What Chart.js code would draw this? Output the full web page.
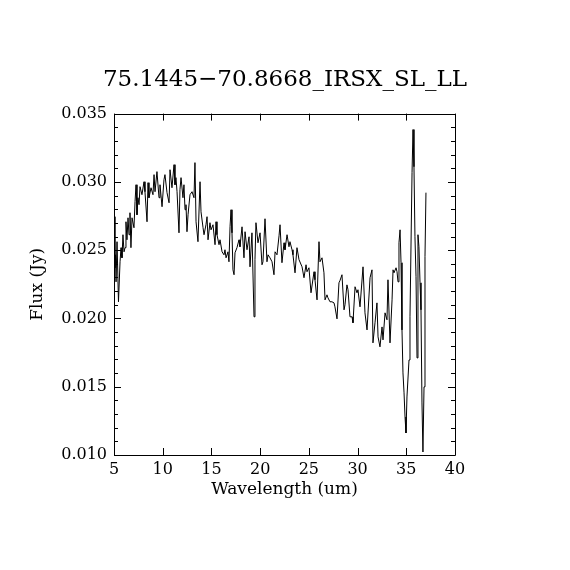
<!DOCTYPE html>
<html>
<head>
<meta charset="utf-8">
<script src="https://cdn.jsdelivr.net/npm/chart.js@4.4.1/dist/chart.umd.min.js"></script>
<style>
  html, body { margin: 0; padding: 0; background: #ffffff; }
  #wrap { width: 570px; height: 570px; }
</style>
</head>
<body>
<div id="wrap"><canvas id="c" width="570" height="570"></canvas></div>
<script>
const chartTitle = "75.1445\u221270.8668_IRSX_SL_LL";
const xLabel = "Wavelength (um)";
const yLabel = "Flux (Jy)";
const xTicks = [5, 10, 15, 20, 25, 30, 35, 40];
const yTicks = [0.010, 0.015, 0.020, 0.025, 0.030, 0.035];
const yMinorStep = 0.001;

const wavelength = [
  5.00,5.10,5.15,5.21,5.31,5.46,5.62,5.72,5.82,5.92,6.03,6.13,6.23,6.33,6.44,6.54,6.64,6.74,6.85,7.05,
  7.16,7.26,7.36,7.46,7.57,7.67,7.87,8.08,8.18,8.39,8.49,8.59,8.80,9.00,9.11,9.21,9.41,9.62,9.72,9.93,
  10.13,10.23,10.44,10.65,10.75,10.95,11.16,
  11.26,11.36,11.47,11.67,11.77,11.88,12.08,12.18,12.29,12.39,12.49,12.60,12.80,13.01,13.21,13.31,13.42,13.62,13.83,13.93,
  14.14,14.24,14.44,14.55,14.65,14.85,14.96,15.16,15.37,15.47,15.57,15.78,15.88,16.09,16.29,16.39,16.50,16.70,16.80,16.91,
  17.01,17.11,17.21,17.32,17.42,17.62,17.83,17.93,18.14,18.34,18.45,18.65,18.86,18.96,19.16,19.37,19.47,19.57,19.78,19.99,
  20.19,20.29,20.50,20.70,20.81,21.01,21.22,21.42,21.53,21.73,21.94,22.04,22.24,22.45,22.55,22.76,22.96,23.06,23.27,23.37,
  23.58,23.78,23.99,24.30,24.50,24.71,24.81,25.01,25.22,25.53,25.63,25.84,26.04,26.14,26.35,26.55,26.66,26.86,26.96,27.17,
  27.37,27.58,27.68,27.89,28.09,28.19,28.40,28.61,28.71,28.91,29.02,29.22,29.43,29.53,29.74,29.94,30.04,30.25,30.56,30.76,
  30.97,31.28,31.48,31.58,31.79,31.99,32.10,32.30,32.51,32.61,32.82,33.02,33.12,33.33,33.54,33.64,33.74,33.95,34.05,34.15,
  34.25,34.36,34.46,34.56,34.66,34.77,34.87,34.97,35.07,35.28,35.38,35.59,35.69,35.79,35.89,36.00,36.10,36.20,36.30,36.41,
  36.51,36.61,36.71,36.82,36.92,37.02
];

const flux = [
  0.02745,0.02371,0.02466,0.02268,0.02562,0.02122,0.02415,0.02518,0.02444,0.02613,0.02488,0.02518,0.02708,0.02576,0.02737,0.02613,0.02774,0.02518,0.02737,0.02664,
  0.02855,0.02979,0.02759,0.02884,0.02833,0.02965,0.02906,0.03001,0.02928,0.02708,0.02994,0.02884,0.02957,0.02906,0.03053,0.02928,0.03075,0.02884,0.02979,0.02818,
  0.03016,0.03053,0.02921,0.02847,0.03089,0.02957,0.03126,
  0.02979,0.03031,0.02928,0.02627,0.02943,0.03031,0.02884,0.02979,0.02796,0.02833,0.02635,0.02759,0.02906,0.02928,0.02884,0.03141,0.02708,0.02562,0.03001,0.02781,
  0.02664,0.02613,0.02686,0.02745,0.02576,0.02701,0.02649,0.02686,0.02540,0.02708,0.02613,0.02540,0.02576,0.02488,0.02466,0.02503,0.02444,0.02488,0.02415,0.02671,
  0.02796,0.02627,0.02356,0.02320,0.02481,0.02518,0.02576,0.02525,0.02671,0.02444,0.02635,0.02503,0.02598,0.02378,0.02627,0.02012,0.02430,0.02701,0.02554,0.02627,
  0.02393,0.02415,0.02730,0.02415,0.02466,0.02444,0.02415,0.02320,0.02488,0.02466,0.02605,0.02686,0.02408,0.02554,0.02503,0.02613,0.02525,0.02562,0.02503,0.02466,
  0.02334,0.02518,0.02430,0.02378,0.02298,0.02393,0.02342,0.02371,0.02188,0.02342,0.02283,0.02136,0.02562,0.02415,0.02444,0.02334,0.02136,0.02173,0.02151,0.02122,
  0.02122,0.02114,0.02085,0.01997,0.02261,0.02276,0.02320,0.02063,0.02100,0.02246,0.02210,0.02012,0.02012,0.01968,0.02232,0.02188,0.02210,0.02085,0.02378,0.02041,
  0.01916,0.02298,0.02356,0.01821,0.01968,0.02114,0.01865,0.01792,0.01938,0.01843,0.02041,0.01990,0.02283,0.01821,0.02136,0.02356,0.02334,0.02371,0.02342,0.02268,
  0.02554,0.02649,0.02408,0.01916,0.01601,0.01455,0.01279,0.01161,0.01425,0.01696,0.02012,0.03067,0.03383,0.03111,0.02598,0.02305,0.01711,0.02613,0.02525,0.02261,
  0.02063,0.01381,0.01022,0.01499,0.02452,0.02921
];

const points = wavelength.map((w, i) => ({ x: w, y: flux[i] }));

const FONT = "'DejaVu Serif', 'Liberation Serif', serif";

const framePlugin = {
  id: 'frameTicks',
  afterDraw(chart) {
    const ctx = chart.ctx;
    const a = chart.chartArea;
    const xs = chart.scales.x, ys = chart.scales.y;
    ctx.save();
    ctx.strokeStyle = '#000';
    ctx.lineWidth = 1;
    ctx.beginPath();
    ctx.rect(Math.round(a.left) + 0.5, Math.round(a.top) + 0.5,
             Math.round(a.right - a.left), Math.round(a.bottom - a.top));
    ctx.stroke();
    const majorLen = 7, minorLen = 4;
    ctx.beginPath();
    xTicks.forEach(v => {
      const px = Math.round(xs.getPixelForValue(v)) + 0.5;
      ctx.moveTo(px, a.bottom); ctx.lineTo(px, a.bottom - majorLen);
      ctx.moveTo(px, a.top); ctx.lineTo(px, a.top + majorLen);
    });
    const yMin = yTicks[0], yMax = yTicks[yTicks.length - 1];
    const n = Math.round((yMax - yMin) / yMinorStep);
    for (let i = 0; i <= n; i++) {
      const v = yMin + i * yMinorStep;
      const isMajor = i % 5 === 0;
      const len = isMajor ? majorLen : minorLen;
      const py = Math.round(ys.getPixelForValue(v)) + 0.5;
      ctx.moveTo(a.left, py); ctx.lineTo(a.left + len, py);
      ctx.moveTo(a.right, py); ctx.lineTo(a.right - len, py);
    }
    ctx.stroke();
    ctx.restore();
  }
};

new Chart(document.getElementById('c'), {
  type: 'line',
  data: {
    datasets: [{
      data: points,
      borderColor: '#000000',
      borderWidth: 1,
      pointRadius: 0,
      tension: 0,
      fill: false
    }]
  },
  options: {
    responsive: false,
    devicePixelRatio: 1,
    animation: false,
    layout: { padding: { left: 0, right: 0, top: 0, bottom: 0 } },
    plugins: {
      legend: { display: false },
      tooltip: { enabled: false },
      title: {
        display: true,
        text: chartTitle,
        color: '#000',
        font: { family: FONT, size: 23, weight: 'normal', lineHeight: 1.2 },
        padding: { top: 66, bottom: 20 },
        align: 'center'
      }
    },
    scales: {
      x: {
        type: 'linear',
        min: xTicks[0],
        max: xTicks[xTicks.length - 1],
        afterFit: (s) => { s.height = 115; },
        afterBuildTicks: (s) => { s.ticks = xTicks.map(v => ({ value: v })); },
        grid: { display: false, drawTicks: false, tickLength: 0 },
        border: { display: false },
        ticks: {
          color: '#000',
          font: { family: FONT, size: 16 },
          padding: 5,
          maxRotation: 0,
          callback: (v) => String(v)
        },
        title: {
          display: true,
          text: xLabel,
          color: '#000',
          font: { family: FONT, size: 17, lineHeight: 1.2 },
          padding: { top: 0, bottom: 70 }
        }
      },
      y: {
        type: 'linear',
        min: yTicks[0],
        max: yTicks[yTicks.length - 1],
        afterFit: (s) => { s.width = 114; },
        afterBuildTicks: (s) => { s.ticks = yTicks.map(v => ({ value: v })); },
        grid: { display: false, drawTicks: false, tickLength: 0 },
        border: { display: false },
        ticks: {
          color: '#000',
          font: { family: FONT, size: 16 },
          padding: 7,
          callback: (v) => Number(v).toFixed(3)
        },
        title: {
          display: true,
          text: yLabel,
          color: '#000',
          font: { family: FONT, size: 17, lineHeight: 1.2 },
          padding: { top: 27, bottom: 0 }
        }
      },
      yRight: {
        type: 'linear',
        position: 'right',
        min: yTicks[0],
        max: yTicks[yTicks.length - 1],
        afterFit: (s) => { s.width = 115; },
        grid: { display: false, drawTicks: false, tickLength: 0 },
        border: { display: false },
        ticks: { display: false },
        title: { display: false }
      }
    }
  },
  plugins: [framePlugin]
});
</script>
</body>
</html>
